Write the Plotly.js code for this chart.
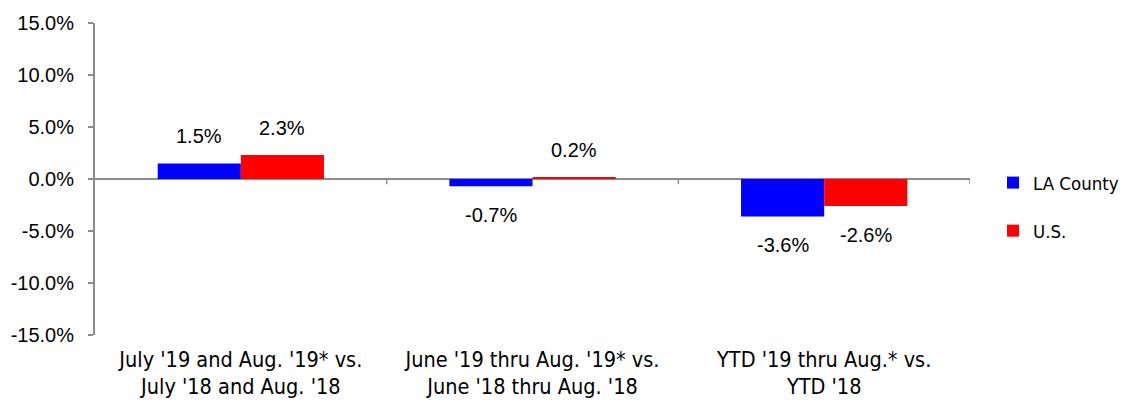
<!DOCTYPE html>
<html><head><meta charset="utf-8">
<script src="https://cdn.plot.ly/plotly-3.0.1.min.js"></script>
<style>body{margin:0;background:#fff}#c{width:1124px;height:400px}</style>
</head><body><div id="c"></div>
<script>
const categories = ["July '19 and Aug. '19* vs.<br>July '18 and Aug. '18",
                    "June '19 thru Aug. '19* vs.<br>June '18 thru Aug. '18",
                    "YTD '19 thru Aug.* vs.<br>YTD '18"];
const laCounty = [1.5, -0.7, -3.6];
const us = [2.3, 0.2, -2.6];
const seriesNames = ["LA County", "U.S."];
const yTicks = [-15, -10, -5, 0, 5, 10, 15];

const xs = categories.map((c, i) => i);
const narrow = "'DejaVu Sans Condensed', 'Liberation Sans Narrow', sans-serif";
const arial = "'Liberation Sans', Arial, sans-serif";
const grey = "#8c8c8c";

const traces = [
  {type: 'bar', name: seriesNames[0], legendgroup: 'a', x: xs, y: laCounty, marker: {color: '#0000ff'}, hoverinfo: 'none'},
  {type: 'bar', name: seriesNames[1], legendgroup: 'b', x: xs, y: us, marker: {color: '#ff0000'}, hoverinfo: 'none'}
];

const groupW = 0.57;
const annotations = [];
[laCounty, us].forEach((vals, s) => {
  vals.forEach((v, i) => {
    annotations.push({
      x: i + (s === 0 ? -1 : 1) * groupW / 4, y: v, xref: 'x', yref: 'y',
      text: v.toFixed(1) + '%', showarrow: false,
      yshift: v >= 0 ? 27 : -29, yanchor: 'middle',
      font: {family: arial, size: 20, color: '#000'}
    });
  });
});

const shapes = [0.5, 1.5, 2.5].map(b => ({
  type: 'line', xref: 'x', yref: 'y', x0: b, x1: b, y0: 0, y1: -0.5,
  line: {color: grey, width: 1.5}
}));

const W = 1124, L = 95, R = 10, plotRight = 970;
const paperW = W - L - R;
const layout = {
  width: W, height: 400,
  margin: {l: L, r: R, t: 23, b: 65, autoexpand: false},
  paper_bgcolor: '#fff', plot_bgcolor: '#fff',
  barmode: 'group', bargap: 1 - groupW, bargroupgap: 0,
  showlegend: true,
  legend: {x: (993 - L) / paperW, y: 0.41, yanchor: 'middle', xanchor: 'left',
           font: {family: narrow, size: 18.5, color: '#000'},
           traceorder: 'grouped', itemwidth: 30, tracegroupgap: 21},
  xaxis: {type: 'linear', domain: [0, (plotRight - L) / paperW], range: [-0.5, 2.5],
          tickvals: xs, ticktext: categories, automargin: false,
          showgrid: false, zeroline: false, showline: false, ticks: '',
          ticklabelstandoff: 9,
          tickfont: {family: narrow, size: 21.5, color: '#000'}, fixedrange: true},
  yaxis: {range: [-15, 15], tickvals: yTicks, ticktext: yTicks.map(t => t.toFixed(1) + '%'),
          automargin: false,
          showgrid: false, zeroline: true, zerolinecolor: grey, zerolinewidth: 2,
          showline: true, linecolor: grey, linewidth: 2, ticks: 'outside', ticklen: 5,
          tickcolor: grey, tickwidth: 1.5, ticklabelstandoff: 10,
          tickfont: {family: arial, size: 20, color: '#000'}},
  annotations: annotations,
  shapes: shapes
};
Plotly.newPlot('c', traces, layout, {displayModeBar: false, staticPlot: true});
</script></body></html>
